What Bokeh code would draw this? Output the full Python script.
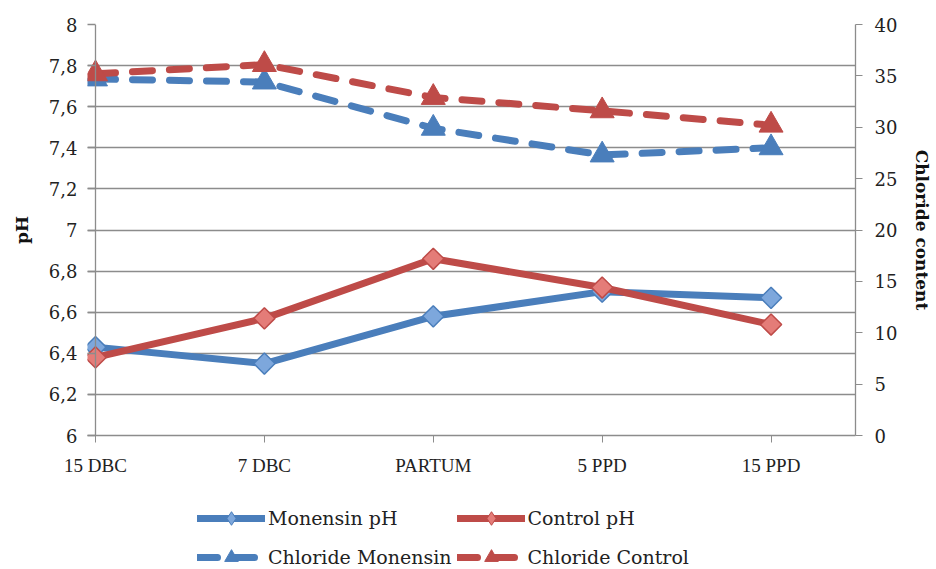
from bokeh.plotting import figure
from bokeh.layouts import column
from bokeh.models import (LinearAxis, Range1d, FixedTicker, CustomJSTickFormatter,
                          Legend, LegendItem, Span)
from bokeh.embed import file_html
from bokeh.resources import INLINE

# Sampling points
categories = ["15 DBC", "7 DBC", "PARTUM", "5 PPD", "15 PPD"]
xpos = [0, 1, 2, 3, 4]

# Rumen pH (left axis)
monensin_ph = [6.43, 6.35, 6.58, 6.70, 6.67]
control_ph = [6.38, 6.57, 6.86, 6.72, 6.54]

# Chloride content (right axis)
chloride_monensin = [34.7, 34.4, 29.9, 27.3, 28.0]
chloride_control = [35.2, 36.1, 32.9, 31.6, 30.2]

ph_ticks = [6.0, 6.2, 6.4, 6.6, 6.8, 7.0, 7.2, 7.4, 7.6, 7.8, 8.0]
chl_ticks = [0, 5, 10, 15, 20, 25, 30, 35, 40]

BLUE = "#4A7EBB"
BLUE_LIGHT = "#7DA7DC"
RED = "#BE4B48"
RED_LIGHT = "#E47C78"
GRID = "#8C8C8C"
SERIF = "DejaVu Serif"

LW = 7
DASH = "20 17"
ANG = 0.7854  # squares turned into diamonds

# The frame starts a few pixels left of the first category so that the
# markers sitting on the value axis are not cut in half; the axis line
# itself is drawn as a span at x = 0 and the tick marks point inward.
FRAME_W = 768
FRAME_LEFT = 87
TICK = 8
X_END = 4.5
x_start = -TICK * X_END / (FRAME_W - TICK)

p = figure(frame_width=FRAME_W, frame_height=411, output_backend="svg",
           toolbar_location=None,
           x_range=Range1d(x_start, X_END), y_range=Range1d(6, 8),
           min_border_left=FRAME_LEFT, min_border_right=81, min_border_top=24,
           min_border_bottom=55, outline_line_color=None)
p.extra_y_ranges = {"chl": Range1d(0, 40)}

# x axis
p.xaxis.ticker = FixedTicker(ticks=xpos)
p.xaxis.major_label_overrides = {i: c for i, c in zip(xpos, categories)}
p.xaxis.axis_line_color = GRID
p.xaxis.axis_line_width = 1.3
p.xaxis.major_tick_line_color = GRID
p.xaxis.major_tick_out = 7
p.xaxis.major_tick_in = 0
p.xaxis.minor_tick_line_color = None
p.xaxis.major_label_text_font = "Liberation Serif"
p.xaxis.major_label_text_font_size = "19px"
p.xaxis.major_label_text_color = "#222222"
p.xaxis.major_label_standoff = 12

# left pH axis with comma decimals
comma_fmt = CustomJSTickFormatter(code="""
    var s = (Math.round(tick * 10) / 10).toString();
    return s.replace('.', ',');
""")
p.yaxis.ticker = FixedTicker(ticks=ph_ticks)
p.yaxis.formatter = comma_fmt
p.yaxis.axis_label = "pH"
p.yaxis.axis_label_text_font = SERIF
p.yaxis.axis_label_text_font_style = "bold"
p.yaxis.axis_label_text_font_size = "17px"
p.yaxis.axis_label_text_color = "#111111"
p.yaxis.axis_label_standoff = 14
p.yaxis.axis_line_color = None
p.yaxis.major_tick_line_color = GRID
p.yaxis.major_tick_line_width = 1.3
p.yaxis.major_tick_out = 0
p.yaxis.major_tick_in = TICK
p.yaxis.minor_tick_line_color = None
p.yaxis.major_label_text_font = SERIF
p.yaxis.major_label_text_font_size = "18px"
p.yaxis.major_label_text_color = "#222222"
p.yaxis.major_label_standoff = 10

p.add_layout(Span(location=0, dimension="height", line_color=GRID, line_width=1.3))

# right chloride axis
right = LinearAxis(y_range_name="chl", ticker=FixedTicker(ticks=chl_ticks),
                   axis_label="Chloride content")
right.axis_label_text_font = SERIF
right.axis_label_text_font_style = "bold"
right.axis_label_text_font_size = "17px"
right.axis_label_text_color = "#111111"
right.axis_label_standoff = 12
right.axis_line_color = GRID
right.axis_line_width = 1.3
right.major_tick_line_color = GRID
right.major_tick_out = 7
right.major_tick_in = 0
right.minor_tick_line_color = None
right.major_label_text_font = SERIF
right.major_label_text_font_size = "18px"
right.major_label_text_color = "#222222"
right.major_label_standoff = 12
p.add_layout(right, "right")

p.xgrid.grid_line_color = None
p.ygrid.ticker = FixedTicker(ticks=ph_ticks)
p.ygrid.grid_line_color = GRID
p.ygrid.grid_line_width = 1.3


def tri_style(color):
    return dict(marker="triangle", size=24, fill_color=color, line_color=color, line_width=1)


def dia_style(color, fill, in_key):
    if in_key:
        return dict(marker="diamond", size=22, fill_color=fill,
                    line_color=color, line_width=1)
    return dict(marker="square", angle=ANG, size=15, fill_color=fill,
                line_color=color, line_width=1.5)


def draw_series(fig, yvals, color, fill, dashed, triangle, in_key=False, **extra):
    ln = fig.line(xpos, yvals, line_color=color, line_width=LW,
                  line_dash=DASH if dashed else "solid",
                  line_cap="round", line_join="round", **extra)
    style = tri_style(color) if triangle else dia_style(color, fill, in_key)
    mk = fig.scatter(xpos, yvals, **style, **extra)
    return [ln, mk]


# Chloride series (dashed, right axis), then pH series (solid, left axis)
draw_series(p, chloride_monensin, BLUE, BLUE, True, True, y_range_name="chl")
draw_series(p, chloride_control, RED, RED, True, True, y_range_name="chl")
draw_series(p, monensin_ph, BLUE, BLUE_LIGHT, False, False)
draw_series(p, control_ph, RED, RED_LIGHT, False, False)

# Legend strip underneath the chart; its own view range keeps the series
# off-screen so only the legend keys show.
lg = figure(width=936, height=79, output_backend="svg", toolbar_location=None,
            x_range=Range1d(0, 1), y_range=Range1d(-2, -1),
            min_border=0, outline_line_color=None)
lg.axis.visible = False
lg.grid.visible = False

legend = Legend(items=[
    LegendItem(label="Monensin pH",
               renderers=draw_series(lg, monensin_ph, BLUE, BLUE_LIGHT, False, False, True)),
    LegendItem(label="Control pH",
               renderers=draw_series(lg, control_ph, RED, RED_LIGHT, False, False, True)),
    LegendItem(label="Chloride Monensin",
               renderers=draw_series(lg, chloride_monensin, BLUE, BLUE, True, True, True)),
    LegendItem(label="Chloride Control",
               renderers=draw_series(lg, chloride_control, RED, RED, True, True, True)),
], ncols=2, location=(197 - FRAME_LEFT, -5), orientation="horizontal")
legend.border_line_color = None
legend.background_fill_alpha = 0
legend.label_text_font = SERIF
legend.label_text_font_size = "19px"
legend.label_text_color = "#222222"
legend.glyph_width = 68
legend.glyph_height = 34
legend.label_height = 34
legend.label_standoff = 3
legend.spacing = 5
legend.padding = 0
legend.margin = 0
lg.add_layout(legend, "center")

layout = column(p, lg, spacing=0)
open("out.html", "w").write(file_html(layout, INLINE))
